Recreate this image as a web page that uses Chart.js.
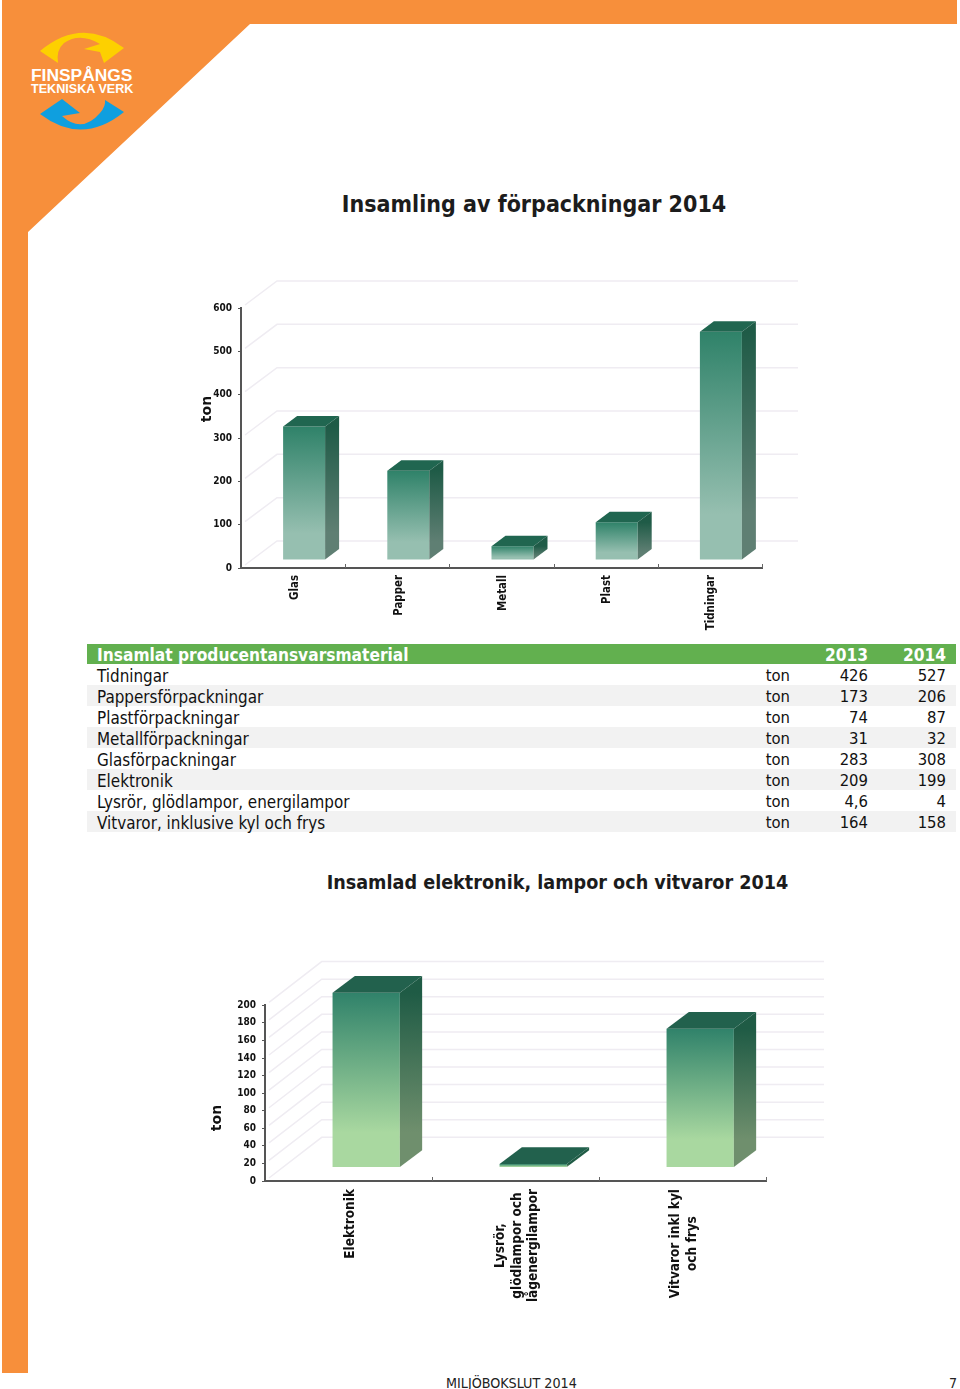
<!DOCTYPE html>
<html lang="sv">
<head>
<meta charset="utf-8">
<title>Miljöbokslut 2014</title>
<script src="https://cdn.jsdelivr.net/npm/chart.js@4/dist/chart.umd.min.js"></script>
<style>
  html, body { margin: 0; padding: 0; background: #fff; }
  body { position: relative; width: 960px; height: 1389px; overflow: hidden; font-family: "DejaVu Sans", sans-serif; }
  canvas, svg, #materialTable, .footer, .chartTitle { position: absolute; }
  #frame { left: 0; top: 0; }
  #packChart { left: 190px; top: 185px; }
  #electronicsChart { left: 200px; top: 865px; }
  .chartTitle { font-weight: bold; font-stretch: condensed; color: #1c1c1c; white-space: nowrap; transform: translate(-50%, -50%); }
  #packTitle { left: 534px; top: 204px; font-size: 23px; }
  #electronicsTitle { left: 557.5px; top: 882px; font-size: 19.6px; }
  #materialTable { left: 87px; top: 644px; width: 869px; border-collapse: collapse; font-size: 16.5px; font-stretch: condensed; color: #111; table-layout: fixed; }
  #materialTable td { height: 19px; padding: 2px 0 0; line-height: 19px; white-space: nowrap; font-weight: normal; }
  #materialTable th { background: #62b04f; color: #fff; font-weight: bold; height: 18px; padding: 2px 0 0; line-height: 18px; font-size: 17.2px; white-space: nowrap; }
  #materialTable tr:nth-child(odd) td { background: #f2f2f2; }
  #materialTable .name { text-align: left; padding-left: 10px; }
  #materialTable td.name { font-size: 16.9px; height: 18px; padding-top: 3px; line-height: 18px; }
  #materialTable .num { text-align: right; padding-right: 10px; }
  .footer { font-size: 14.2px; font-stretch: condensed; color: #222; top: 1375px; }
</style>
</head>
<body>
<svg id="frame" width="960" height="1389">
  <polygon fill="#f78f3b" points="2,0 957,0 957,24 250,24 28,232 28,1373 2,1373"/>
  <path fill="#fdd000" d="M40,51 Q82,16 124,48 L104,63 L100,52 L84,49 L100,44 Q80,32 64,43 Q56,50 58,63 Z"/>
  <path fill="#0f9fdf" d="M40,114 L62,99 L80,113 L62,116 Q82,134 100,113 Q106,106 105,100 L124,112 Q82,146 40,114 Z"/>
  <text x="31" y="81" fill="#fff" font-family="Liberation Sans" font-weight="bold" font-size="17.4">FINSPÅNGS</text>
  <text x="31" y="93" fill="#fff" font-family="Liberation Sans" font-weight="bold" font-size="12.6">TEKNISKA VERK</text>
</svg>

<div class="chartTitle" id="packTitle">Insamling av förpackningar 2014</div>
<canvas id="packChart" width="688" height="455"></canvas>
<table id="materialTable"></table>
<div class="chartTitle" id="electronicsTitle">Insamlad elektronik, lampor och vitvaror 2014</div>
<canvas id="electronicsChart" width="715" height="445"></canvas>

<div class="footer" style="left:446px">MILJÖBOKSLUT 2014</div>
<div class="footer" style="right:3px">7</div>

<script>
// Chart data
const packCategories = ["Glas", "Papper", "Metall", "Plast", "Tidningar"];
const packValues = [308, 206, 32, 87, 527];
const electronicsCategories = [
  "Elektronik",
  ["Lysrör,", "glödlampor och", "lågenergilampor"],
  ["Vitvaror inkl kyl", "och frys"],
];
const electronicsValues = [199, 4, 158];

// Table data
const tableHeader = ["Insamlat producentansvarsmaterial", "", "2013", "2014"];
const tableNames = [
  "Tidningar",
  "Pappersförpackningar",
  "Plastförpackningar",
  "Metallförpackningar",
  "Glasförpackningar",
  "Elektronik",
  "Lysrör, glödlampor, energilampor",
  "Vitvaror, inklusive kyl och frys",
];
const tableValues2013 = ["426", "173", "74", "31", "283", "209", "4,6", "164"];
const tableValues2014 = ["527", "206", "87", "32", "308", "199", "4", "158"];

// Build the table
const table = document.getElementById("materialTable");
let rows = "<colgroup><col style='width:670px'><col style='width:43px'><col style='width:78px'><col style='width:78px'></colgroup>";
rows += "<tr><th class='name'>" + tableHeader[0] + "</th><th class='num'></th><th class='num'>" +
  tableHeader[2] + "</th><th class='num'>" + tableHeader[3] + "</th></tr>";
tableNames.forEach((name, i) => {
  rows += "<tr><td class='name'>" + name + "</td><td class='num'>ton</td><td class='num'>" +
    tableValues2013[i] + "</td><td class='num'>" + tableValues2014[i] + "</td></tr>";
});
table.innerHTML = rows;

// Fake 3D look: back wall, bar sides and tops, axis ticks and labels
const bar3d = {
  id: "bar3d",
  beforeDatasetsDraw(chart, args, o) {
    const { ctx, scales: { x, y }, chartArea: area } = chart;
    ctx.save();
    ctx.strokeStyle = "#efecf2";
    ctx.lineWidth = 1.5;
    y.ticks.forEach((t) => {
      const py = y.getPixelForValue(t.value);
      ctx.beginPath();
      ctx.moveTo(area.left + 4, py - 3);
      ctx.lineTo(area.left + o.wallX, py - o.wallY);
      ctx.lineTo(o.wallEnd, py - o.wallY);
      ctx.stroke();
    });
    // ticks stand on the x axis, between the categories
    ctx.strokeStyle = "#666";
    ctx.lineWidth = 1;
    x.ticks.forEach((t, i) => {
      const px = Math.round(x.getPixelForTick(i) + (x.getPixelForTick(1) - x.getPixelForTick(0)) / 2) + 0.5;
      ctx.beginPath();
      ctx.moveTo(px, area.bottom);
      ctx.lineTo(px, area.bottom - 4);
      ctx.stroke();
    });
    // category labels, lines centred inside their block
    ctx.fillStyle = "#111";
    ctx.font = "bold " + o.labelSize + "px 'DejaVu Sans Condensed'";
    ctx.textAlign = "center";
    ctx.textBaseline = "middle";
    chart.data.labels.forEach((label, i) => {
      const lines = [].concat(label);
      const blockWidth = Math.max(...lines.map((l) => ctx.measureText(l).width));
      lines.forEach((line, j) => {
        ctx.save();
        ctx.translate(x.getPixelForTick(i) + 1.5 + (j - (lines.length - 1) / 2) * o.labelLine, area.bottom + o.labelGap + blockWidth / 2);
        ctx.rotate(-Math.PI / 2);
        ctx.fillText(line, 0, 0);
        ctx.restore();
      });
    });
    ctx.font = "bold 14px 'DejaVu Sans'";
    ctx.translate(o.titleX, o.titleY);
    ctx.rotate(-Math.PI / 2);
    ctx.fillText("ton", 0, 0);
    ctx.restore();

    ctx.save();
    ctx.translate(o.shiftX, -o.shiftY);
  },
  afterDatasetsDraw(chart, args, o) {
    const { ctx } = chart;
    chart.getDatasetMeta(0).data.forEach((bar) => {
      const left = bar.x - bar.width / 2;
      const right = bar.x + bar.width / 2;
      // top
      ctx.fillStyle = o.topColor;
      ctx.beginPath();
      ctx.moveTo(left, bar.y);
      ctx.lineTo(left + o.depthX, bar.y - o.depthY);
      ctx.lineTo(right + o.depthX, bar.y - o.depthY);
      ctx.lineTo(right, bar.y);
      ctx.closePath();
      ctx.fill();
      // side
      const g = ctx.createLinearGradient(0, bar.y, 0, bar.base);
      g.addColorStop(0, o.sideTop);
      g.addColorStop(0.8, o.sideBottom);
      ctx.fillStyle = g;
      ctx.beginPath();
      ctx.moveTo(right, bar.y);
      ctx.lineTo(right + o.depthX, bar.y - o.depthY);
      ctx.lineTo(right + o.depthX, bar.base - o.depthY);
      ctx.lineTo(right, bar.base);
      ctx.closePath();
      ctx.fill();
    });
    ctx.restore();
  },
};

function frontGradient(top, bottom) {
  return (c) => {
    const area = c.chart.chartArea;
    if (!area || c.raw === undefined) return top;
    const py = c.chart.scales.y.getPixelForValue(c.raw);
    const g = c.chart.ctx.createLinearGradient(0, py, 0, area.bottom);
    g.addColorStop(0, top);
    g.addColorStop(0.8, bottom);
    return g;
  };
}

function make3dChart(id, cfg) {
  return new Chart(document.getElementById(id), {
    type: "bar",
    plugins: [bar3d],
    data: {
      labels: cfg.labels,
      datasets: [{
        data: cfg.values,
        backgroundColor: frontGradient(cfg.front[0], cfg.front[1]),
        barPercentage: 0.403,
        categoryPercentage: 1,
      }],
    },
    options: {
      responsive: false,
      animation: false,
      layout: { padding: { top: cfg.topPad, right: cfg.rightPad } },
      plugins: {
        legend: { display: false },
        tooltip: { enabled: false },
        title: { display: false },
        bar3d: cfg.look,
      },
      scales: {
        x: {
          grid: { display: false },
          border: { color: "#555", width: 2 },
          ticks: { display: false },
          afterFit: (s) => { s.height = cfg.bottomHeight; },
        },
        y: {
          min: 0,
          max: cfg.max,
          grid: { drawOnChartArea: false, tickLength: 3, tickColor: "#555" },
          border: { color: "#555", width: 2 },
          ticks: {
            stepSize: cfg.step,
            color: "#111",
            padding: 6,
            font: { family: "DejaVu Sans Condensed", size: 10, weight: "bold" },
          },
          afterFit: (s) => { s.width = cfg.leftWidth; },
        },
      },
    },
  });
}

document.addEventListener("DOMContentLoaded", function () {
  make3dChart("packChart", {
    labels: packCategories,
    values: packValues,
    max: 600,
    step: 100,
    topPad: 123,
    rightPad: 116,
    leftWidth: 51,
    bottomHeight: 72,
    front: ["#2f8269", "#96bfb0"],
    look: {
      shiftX: 11, shiftY: 8, depthX: 14, depthY: 10.5,
      wallX: 36, wallY: 27, wallEnd: 608,
      topColor: "#206650", sideTop: "#1f5b47", sideBottom: "#5f7f73",
      titleX: 17, titleY: 224,
      labelSize: 11.4, labelLine: 16, labelGap: 7,
    },
  });
  make3dChart("electronicsChart", {
    labels: electronicsCategories,
    values: electronicsValues,
    max: 200,
    step: 20,
    topPad: 140.3,
    rightPad: 149,
    leftWidth: 65,
    bottomHeight: 129,
    front: ["#30826a", "#a9d8a0"],
    look: {
      shiftX: 17.7, shiftY: 13.5, depthX: 22.3, depthY: 16.7,
      wallX: 56.7, wallY: 43.7, wallEnd: 624,
      topColor: "#22614d", sideTop: "#1f5b45", sideBottom: "#6f8f6d",
      titleX: 17, titleY: 253,
      labelSize: 13.5, labelLine: 16.5, labelGap: 8,
    },
  });
});
</script>
</body>
</html>
